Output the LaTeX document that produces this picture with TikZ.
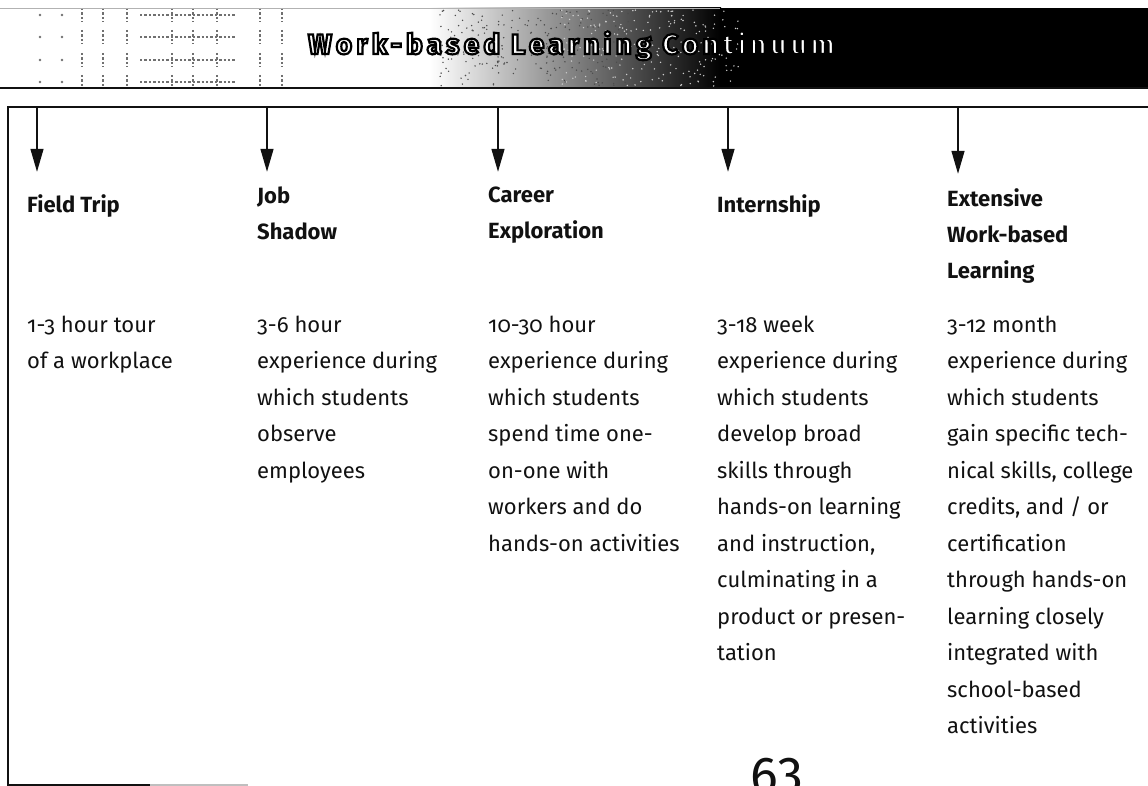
\documentclass[tikz,border=0pt]{standalone}
\usepackage{fontspec}
\setmainfont{Fira Sans}[Numbers=OldStyle]
\newfontfamily\titlefont{Fira Sans}[LetterSpace=15]
\newfontfamily\pagefont{Fira Sans}[Numbers=Lining]
\usepackage{xcolor}
\definecolor{wblInk}{HTML}{111111}
\definecolor{wblSpeck}{HTML}{707070}
\usepackage{tikz}
\usetikzlibrary{arrows.meta}

% outlined lettering: fill with the text colour, stroke in black
\newcommand{\outlined}[1]{\special{pdf:code q 2 Tr 2.2 w 0 G}#1\special{pdf:code Q}}

\begin{document}
\begin{tikzpicture}[x=1pt, y=-1pt,
  heading/.style={
    anchor=north west, inner sep=0pt, align=left, text=wblInk,
    font=\fontsize{22}{36}\selectfont\bfseries, execute at begin node=\strut
  },
  detail/.style={
    anchor=north west, inner sep=0pt, align=left, text=wblInk,
    font=\fontsize{22}{36.5}\selectfont, execute at begin node=\strut
  },
  drop/.style={-{Triangle[length=23pt, width=13pt]}, line width=1.4pt, color=wblInk, shorten >=15pt},
  banner/.style={anchor=base west, inner sep=0pt, font=\titlefont\fontsize{28}{32}\selectfont\bfseries, text=white},
  speck/.style={wblSpeck, line width=2.4pt, dotted}
]
  \useasboundingbox (0,0) rectangle (1148,786);

  % title band
  \shade[left color=white, right color=black] (430,8) rectangle (721,88);
  \fill[black] (720,8) rectangle (1148,88);
  \pgfmathsetseed{11}
  \foreach \k in {1,...,220}{
    \pgfmathsetmacro{\sx}{440+190*rnd}
    \pgfmathsetmacro{\sy}{10+76*rnd}
    \fill[black!70] (\sx,\sy) circle (0.8);
  }
  \foreach \k in {1,...,220}{
    \pgfmathsetmacro{\sx}{560+180*rnd}
    \pgfmathsetmacro{\sy}{10+76*rnd}
    \fill[white!80!black] (\sx,\sy) circle (0.8);
  }
  \foreach \ry in {15,37,60,82}{
    \foreach \cx in {82,103,127,172,193,217,260,282}
      \draw[speck] (\cx,\ry-7) -- (\cx,\ry+7);
    \draw[speck] (140,\ry) -- (235,\ry);
    \fill[wblSpeck] (40,\ry) circle (1.3) (62,\ry) circle (1.3);
  }
  \draw[gray!60, line width=0.8pt] (0,8) -- (720,8);
  \draw[wblInk, line width=1.4pt] (0,88) -- (1148,88);

  \node[banner] (title) at (308,54) {\outlined{Work-based Learning Continuum}};

  % open frame
  \coordinate (fr-tr) at (1148,107);
  \coordinate (fr-tl) at (8,107);
  \coordinate (fr-bl) at (8,785);
  \coordinate (fr-bm) at (150,785);
  \coordinate (fr-br) at (248,785);
  \draw[line width=1.4pt, wblInk] (fr-tr) -- (fr-tl) -- (fr-bl) -- (fr-bm);
  \draw[line width=1.4pt, gray!50] (fr-bm) -- (fr-br);

  \coordinate (a1) at (37,107);
  \coordinate (a2) at (267,107);
  \coordinate (a3) at (498,107);
  \coordinate (a4) at (728,107);
  \coordinate (a5) at (958,107);

  % stages
  \node[heading] (trip) at (27,186.8) {Field Trip};
  \node[heading] (shadow) at (257,186.8) {Job\\Shadow};
  \node[heading] (explore) at (488,186.8) {Career\\Exploration};
  \node[heading] (intern) at (717,186.8) {Internship};
  \node[heading] (extensive) at (947,188.8) {Extensive\\Work-based\\Learning};

  \draw[drop] (a1) -- (a1 |- trip.north);
  \draw[drop] (a2) -- (a2 |- shadow.north);
  \draw[drop] (a3) -- (a3 |- explore.north);
  \draw[drop] (a4) -- (a4 |- intern.north);
  \draw[drop] (a5) -- (a5 |- extensive.north);

  \node[detail] (tripbody) at (27,315.45) {1-3 hour tour\\of a workplace};
  \node[detail] (shadowbody) at (257,315.45) {3-6 hour\\experience during\\which students\\observe\\employees};
  \node[detail] (explorebody) at (488,315.45) {10-30 hour\\experience during\\which students\\spend time one-\\on-one with\\workers and do\\hands-on activities};
  \node[detail] (internbody) at (717,315.45) {3-18 week\\experience during\\which students\\develop broad\\skills through\\hands-on learning\\and instruction,\\culminating in a\\product or presen-\\tation};
  \node[detail] (extbody) at (947,315.45) {3-12 month\\experience during\\which students\\gain specific tech-\\nical skills, college\\credits, and / or\\certification\\through hands-on\\learning closely\\integrated with\\school-based\\activities};

  \node[anchor=base west, inner sep=0pt, text=wblInk, font=\pagefont\fontsize{52}{60}\selectfont] (pagenum) at (750,793) {63};
\end{tikzpicture}
\end{document}
